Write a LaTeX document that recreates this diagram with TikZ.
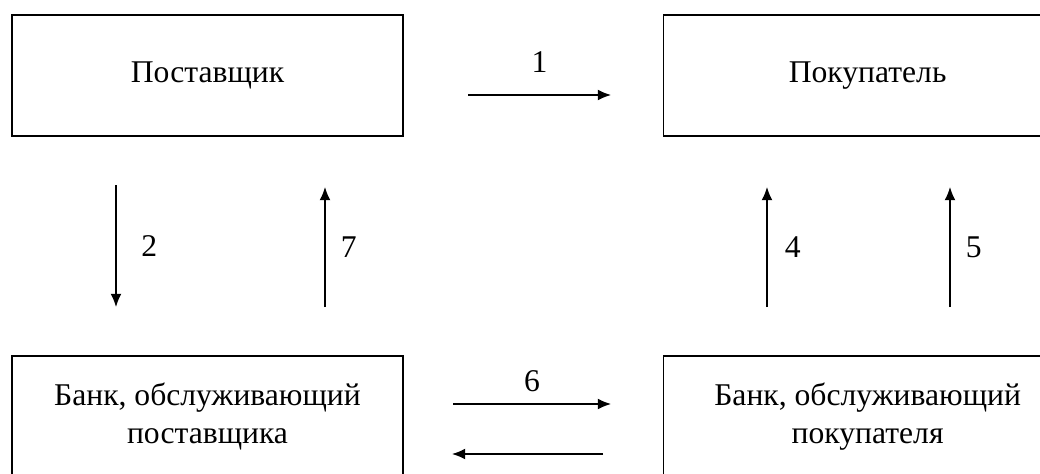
\documentclass[tikz,border=0pt]{standalone}
\usepackage{fontspec}
\setmainfont{Liberation Serif}
\usetikzlibrary{arrows.meta,positioning}
\tikzset{
  party/.style={draw, line width=0.9pt, minimum width=9.775cm, minimum height=3.025cm,
    inner sep=0pt, align=center, font=\fontsize{22.5}{26.5}\selectfont},
  flow/.style={line width=0.9pt, -{Latex[length=0.33cm,width=0.27cm]}},
  num/.style={inner sep=0pt, font=\fontsize{22.5}{26}\selectfont}
}
\begin{document}
\begin{tikzpicture}
        \clip (0,0) rectangle (26,-11.825);
        \useasboundingbox (0,0) rectangle (26,-11.825);
        % nodes
        \node[party] (sup) at (5.1875,-1.8875) {Поставщик};
        \node[party, minimum width=10.2cm, anchor=west] (buy) at (16.575,-1.8875) {Покупатель};
        \node[party] (supbank) at (5.1875,-10.4125) {Банк, обслуживающий\\поставщика};
        \node[party, minimum width=10.2cm, anchor=west] (buybank) at (16.575,-10.4125) {Банк, обслуживающий\\покупателя};
        % arrow ends
        \coordinate (a1) at (11.7,-2.375);    \coordinate (b1) at (15.275,-2.375);
        \coordinate (a2) at (2.9,-4.625);     \coordinate (b2) at (2.9,-7.675);
        \coordinate (a7) at (8.125,-7.675);   \coordinate (b7) at (8.125,-4.675);
        \coordinate (a4) at (19.175,-7.675);  \coordinate (b4) at (19.175,-4.675);
        \coordinate (a5) at (23.75,-7.675);   \coordinate (b5) at (23.75,-4.675);
        \coordinate (a6) at (11.325,-10.1);   \coordinate (b6) at (15.275,-10.1);
        \coordinate (a8) at (15.075,-11.35);  \coordinate (b8) at (11.3,-11.35);
        % edges
        \draw[flow] (a1) -- node[num, midway, above=0.55cm] (n1) {1} (b1);
        \draw[flow] (a2) -- node[num, midway, right=0.62cm] (n2) {2} (b2);
        \draw[flow] (a7) -- node[num, midway, right=0.38cm] (n7) {7} (b7);
        \draw[flow] (a4) -- node[num, midway, right=0.43cm] (n4) {4} (b4);
        \draw[flow] (a5) -- node[num, midway, right=0.38cm] (n5) {5} (b5);
        \draw[flow] (a6) -- node[num, midway, above=0.3cm] (n6) {6} (b6);
        \draw[flow] (a8) -- (b8);
\end{tikzpicture}
\end{document}
